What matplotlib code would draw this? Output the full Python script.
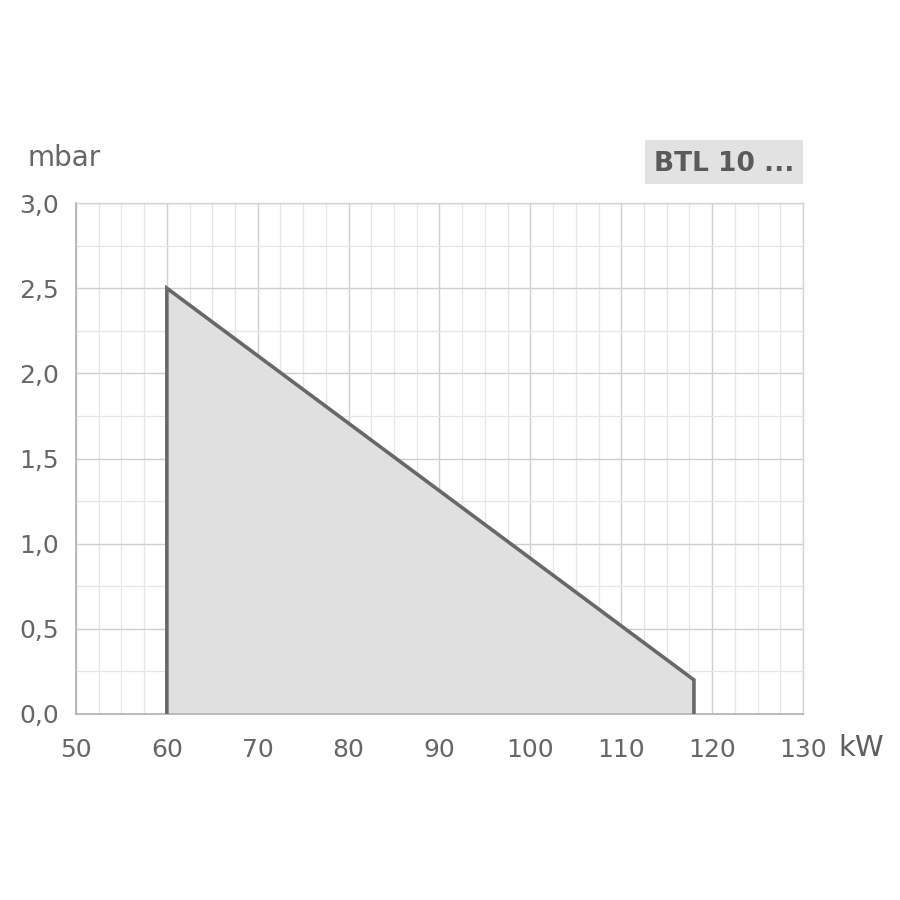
import numpy as np
import matplotlib.pyplot as plt
from matplotlib.patches import Rectangle
from matplotlib.ticker import MultipleLocator, FuncFormatter

# working field outline (kW, mbar)
power_kw = [60, 60, 118, 118]
pressure_mbar = [0.0, 2.5, 0.2, 0.0]

x_ticks = [50, 60, 70, 80, 90, 100, 110, 120, 130]
y_ticks = [0.0, 0.5, 1.0, 1.5, 2.0, 2.5, 3.0]
model_label = "BTL 10 ..."

text_col = "#666666"

fig = plt.figure(figsize=(9, 9), dpi=100)
ax = fig.add_axes([0.0844, 0.2067, 0.8078, 0.5677])

ax.fill(power_kw, pressure_mbar, color="#e0e0e0", zorder=2, lw=0)
ax.plot(power_kw, pressure_mbar, color="#686868", lw=2.6,
        solid_joinstyle="miter", zorder=3)

ax.set_xlim(50, 130)
ax.set_ylim(0, 3)
ax.set_xticks(x_ticks)
ax.set_yticks(y_ticks)
ax.xaxis.set_minor_locator(MultipleLocator(2.5))
ax.yaxis.set_minor_locator(MultipleLocator(0.25))
ax.yaxis.set_major_formatter(FuncFormatter(lambda v, p: f"{v:.1f}".replace(".", ",")))

ax.grid(which="major", color="#cfcfcf", lw=1.0, zorder=1)
ax.grid(which="minor", color="#e6e6e6", lw=0.9, zorder=1)
ax.set_axisbelow(True)

for side in ["top", "right"]:
    ax.spines[side].set_color("#d5d5d5")
    ax.spines[side].set_linewidth(1.0)
for side in ["left", "bottom"]:
    ax.spines[side].set_color("#b5b5b5")
    ax.spines[side].set_linewidth(1.3)

ax.tick_params(which="both", length=0, labelsize=18, labelcolor=text_col)
ax.tick_params(axis="x", pad=17)
ax.tick_params(axis="y", pad=12)

fig.text(0.031, 0.825, "mbar", fontsize=20, color=text_col, va="center", ha="left")
fig.text(0.932, 0.169, "kW", fontsize=21, color="#5e5e5e", va="center", ha="left")

fig.patches.append(Rectangle((0.7167, 0.7956), 0.1755, 0.0488, transform=fig.transFigure,
                             fc="#e2e2e2", ec="none"))
fig.text(0.8044, 0.818, model_label, fontsize=19, color="#5a5a5a", fontweight="bold",
         va="center", ha="center")

fig.savefig("out.png", dpi=100)
